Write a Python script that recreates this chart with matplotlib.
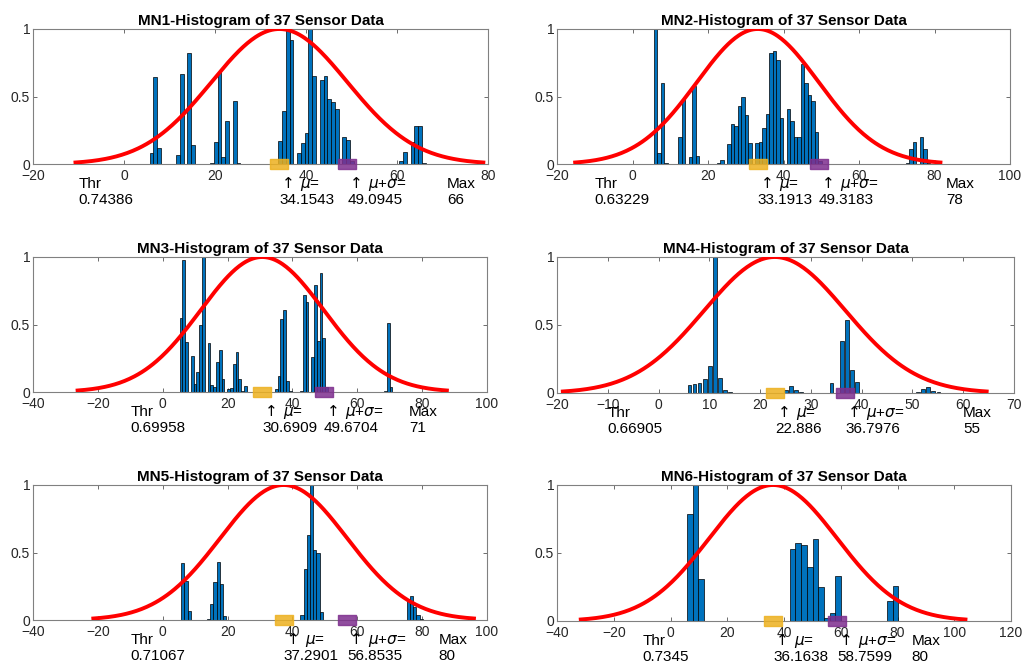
import matplotlib
matplotlib.use("Agg")
import matplotlib.pyplot as plt
import numpy as np

plt.rcParams["font.family"] = ["Liberation Sans", "DejaVu Sans"]
plt.rcParams["mathtext.fontset"] = "dejavusans"

titles = [f"MN{k}-Histogram of 37 Sensor Data" for k in range(1, 7)]
thr = [0.74386, 0.63229, 0.69958, 0.66905, 0.71067, 0.7345]
mu = [34.1543, 33.1913, 30.6909, 22.886, 37.2901, 36.1638]
mu_plus_sigma = [49.0945, 49.3183, 49.6704, 36.7976, 56.8535, 58.7599]
max_val = [66, 78, 71, 55, 80, 80]
x_limits = [(-20, 80), (-20, 100), (-40, 100), (-20, 70), (-40, 100), (-40, 120)]
x_tick_step = [20, 20, 20, 10, 20, 20]

# histogram range (first edge, last edge) and normalised bin heights
bin_ranges = [(5.64, 66.3), (5.6, 78.9), (5.22, 70.8), (5.6, 55.6), (5.7, 80.2), (5.77, 80.3)]
bar_fill = [1.0, 1.0, 1.0, 0.7, 1.0, 1.0]

mn1_counts = [0.08, 0.645, 0.12, 0, 0, 0, 0, 0.07, 0.67, 0, 0.82, 0.14,
              0, 0, 0, 0, 0.005, 0.16, 0.68, 0.05, 0.32, 0, 0.47, 0.01,
              0, 0, 0, 0, 0, 0, 0, 0, 0, 0,
              0.17, 0.39, 1.0, 0.92, 0, 0.08, 0.155, 0.23, 1.0, 0.65,
              0, 0.62, 0.65, 0.48, 0.46, 0.41, 0, 0.20, 0.18, 0.02,
              0, 0, 0, 0, 0, 0, 0, 0, 0, 0, 0, 0,
              0.02, 0.09, 0, 0.16, 0.285, 0.28, 0.01]
mn2_counts = [1.0, 0.08, 0.60, 0.01, 0, 0, 0, 0.20, 0.48, 0, 0.05, 0.58, 0.06,
              0, 0, 0, 0, 0,
              0.01, 0.03, 0, 0.15, 0.30, 0.28, 0.43, 0.50, 0.36, 0.155, 0,
              0.155, 0.16, 0.27, 0.37, 0.82, 0.84, 0.77, 0.34, 0,
              0.41, 0.32, 0.20, 0.20, 0.74, 0.60, 0.51, 0.47, 0.24, 0.02,
              0, 0, 0, 0, 0, 0, 0, 0, 0, 0, 0, 0,
              0, 0, 0, 0, 0, 0, 0, 0, 0, 0, 0, 0,
              0.005, 0.11, 0.165, 0, 0.20, 0.11, 0.01]
mn3_counts = [0.55, 0.98, 0.37, 0, 0.27, 0.06, 0.15, 0.50, 1.0, 0, 0.36, 0.05,
              0.04, 0.22, 0.31, 0.10, 0, 0.02, 0.03, 0.21, 0.30, 0.10, 0.01, 0.045,
              0, 0, 0, 0, 0, 0, 0, 0, 0, 0,
              0.02, 0.12, 0.54, 0.61, 0.08, 0.01,
              0, 0, 0,
              0.005, 0.72, 0.67, 0, 0.26, 0.79, 0.38, 0.88, 0.40, 0.04,
              0, 0, 0, 0, 0, 0, 0, 0, 0, 0, 0, 0, 0, 0, 0, 0, 0, 0, 0,
              0, 0.005, 0.51, 0.035]
mn4_counts = [0.057, 0.068, 0.075, 0.105, 0.20, 1.0, 0.11, 0.02, 0.005,
              0, 0, 0, 0, 0, 0, 0, 0, 0, 0,
              0.02, 0.055, 0.025, 0.005,
              0, 0, 0, 0, 0,
              0.075, 0, 0.38, 0.54, 0.17, 0.08,
              0, 0, 0, 0, 0, 0, 0, 0, 0, 0, 0,
              0.005, 0.03, 0.045, 0.015, 0.008]
mn5_counts = [0.42, 0.29, 0.07, 0, 0, 0, 0, 0,
              0.01, 0.12, 0.28, 0.43, 0.27, 0.03,
              0, 0, 0, 0, 0, 0, 0, 0, 0, 0, 0, 0,
              0, 0, 0, 0, 0, 0, 0, 0, 0, 0, 0,
              0.04, 0.38, 0.63, 1.0, 0.52, 0.50, 0.06,
              0, 0, 0, 0, 0, 0, 0, 0, 0, 0, 0, 0, 0,
              0, 0, 0, 0, 0, 0, 0, 0, 0, 0, 0, 0, 0,
              0.155, 0.18, 0.10, 0.035, 0.01]
mn6_counts = [0.79, 1.0, 0.31,
              0, 0, 0, 0, 0, 0, 0, 0, 0, 0, 0, 0, 0, 0, 0,
              0.53, 0.57, 0.56, 0.40, 0.60, 0.25, 0.025, 0.06, 0.33,
              0, 0, 0, 0, 0, 0, 0, 0,
              0.15, 0.26]
counts = [mn1_counts, mn2_counts, mn3_counts, mn4_counts, mn5_counts, mn6_counts]

# axes boxes in pixels: left, top, right, bottom
AX_BOXES = [(33, 29, 488, 164), (557, 29, 1010, 164),
            (33, 257, 487, 392), (557, 257, 1014, 393),
            (33, 485, 487, 620), (557, 485, 1011, 621)]

W, H = 1022, 664
fig = plt.figure(figsize=(W / 100, H / 100), dpi=100)
rect_marker = [(-1, -0.58), (1, -0.58), (1, 0.58), (-1, 0.58), (-1, -0.58)]

for i in range(6):
    l, t, r, b = AX_BOXES[i]
    ax = fig.add_axes([l / W, 1 - b / H, (r - l) / W, (b - t) / H])

    h = np.asarray(counts[i], dtype=float)
    lo, hi = bin_ranges[i]
    w = (hi - lo) / len(h)
    centers = lo + w * (np.arange(len(h)) + 0.5)
    nz = h > 0
    ax.bar(centers[nz], h[nz], width=w * bar_fill[i], color="#0072BD",
           edgecolor="black", linewidth=0.5, zorder=2)

    # fitted normal curve over mu +/- 3 sigma, scaled to peak 1
    sigma = mu_plus_sigma[i] - mu[i]
    xs = np.linspace(mu[i] - 3 * sigma, mu[i] + 3 * sigma, 300)
    ax.plot(xs, np.exp(-0.5 * ((xs - mu[i]) / sigma) ** 2), color="red",
            lw=2.8, zorder=3)

    ax.plot([mu[i]], [0], marker=rect_marker, ms=12.3, color="#EDB120",
            alpha=0.85, clip_on=False, zorder=4, linestyle="none")
    ax.plot([mu_plus_sigma[i]], [0], marker=rect_marker, ms=12.3, color="#7E2F8E",
            alpha=0.85, clip_on=False, zorder=4, linestyle="none")

    x0, x1 = x_limits[i]
    ax.set_xlim(x0, x1)
    ax.set_ylim(0, 1)
    ax.set_xticks(np.arange(x0, x1 + 1, x_tick_step[i]))
    ax.set_yticks([0, 0.5, 1])
    ax.set_yticklabels(["0", "0.5", "1"])
    ax.tick_params(direction="in", top=True, right=True, length=3, width=0.6,
                   color="#555555", labelcolor="#262626", labelsize=10)
    ax.tick_params(axis="x", pad=3.5)
    ax.tick_params(axis="y", pad=2)
    for sp in ax.spines.values():
        sp.set_color("#808080")
        sp.set_linewidth(0.8)
    ax.set_title(titles[i], fontsize=11, fontweight="bold", pad=3)

    kw = dict(fontsize=11, clip_on=False, va="baseline", ha="left", color="black")
    ax.text(-10, -0.178, "Thr", **kw)
    ax.text(-10, -0.296, f"{thr[i]:g}", **kw)
    ax.text(mu[i], -0.178, r"$\uparrow\,\mu$=", **kw)
    ax.text(mu[i], -0.296, f"{mu[i]:g}", **kw)
    ax.text(mu_plus_sigma[i], -0.178, r"$\uparrow\,\mu$+$\sigma$=", **kw)
    ax.text(mu_plus_sigma[i], -0.296, f"{mu_plus_sigma[i]:g}", **kw)
    ax.text(max_val[i] + 5, -0.178, "Max", **kw)
    ax.text(max_val[i] + 5, -0.296, f"{max_val[i]:g}", **kw)

fig.savefig("out.png", dpi=100, facecolor="white")
